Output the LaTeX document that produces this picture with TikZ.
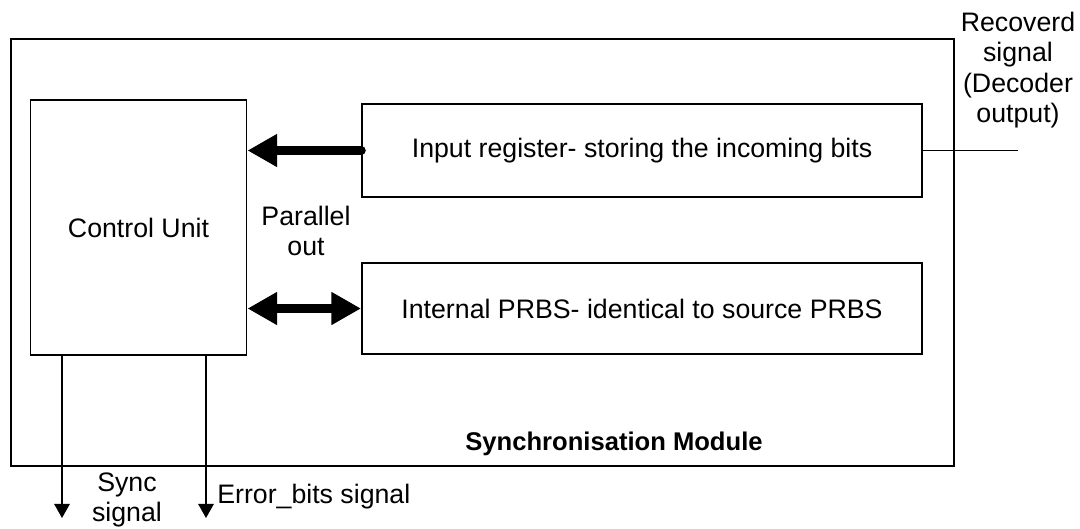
\documentclass[tikz,border=0pt]{standalone}
\usepackage{fontspec}
\setmainfont{Liberation Sans}
\usetikzlibrary{arrows.meta,positioning}

\tikzset{
  blk/.style={draw, line width=1.4pt, inner sep=0pt, align=center},
  fat/.style={line width=6.8pt},
  thin/.style={line width=1.1pt, -{Triangle[length=10pt,width=11pt]}},
  lbl/.style={align=center, inner sep=0pt}
}

\begin{document}
\begin{tikzpicture}[x=0.025cm, y=-0.025cm, font=\fontsize{19}{21.5}\selectfont]

\useasboundingbox (0,0) rectangle (1080,528);

\node[blk, minimum width=943*0.025cm, minimum height=427*0.025cm] (module) at (482.5,252.5) {};
\node[blk, minimum width=216*0.025cm, minimum height=255*0.025cm] (cu) at (138.5,227.5) {Control Unit};
\node[blk, minimum width=560*0.025cm, minimum height=93*0.025cm] (inreg) at (642,150.5) {Input register- storing the incoming bits};
\node[blk, minimum width=560*0.025cm, minimum height=91*0.025cm] (prbs) at (642,308.5) {Internal PRBS- identical to source PRBS};

\node[lbl, font=\fontsize{18.2}{21.5}\selectfont\bfseries] (modname) at (614,444) {Synchronisation Module};
\node[lbl] (parout) at (306,231) {Parallel\\out};
\node[lbl] (recov) at (1018,70) {Recoverd\\signal\\(Decoder\\output)};
\node[lbl] (synclbl) at (127,500) {Sync\\signal};
\node[lbl, anchor=west] (errlbl) at (217,497) {Error\_bits signal};

\coordinate (recin) at (1018,152);
\coordinate (syncout) at (62,518);
\coordinate (errout) at (206,518);

\draw[line width=1.4pt] (inreg.east) -- (inreg.east -| recin);
\draw[fat, line cap=round, -{Triangle[length=21pt,width=22pt]}] (inreg.west) -- (inreg.west -| cu.east);
\draw[fat, {Triangle[length=21pt,width=22pt]}-{Triangle[length=21pt,width=22pt]}] (prbs.west -| cu.east) -- (prbs.west);

\draw[thin] (cu.south -| syncout) -- (syncout);
\draw[thin] (cu.south -| errout) -- (errout);

\end{tikzpicture}
\end{document}
